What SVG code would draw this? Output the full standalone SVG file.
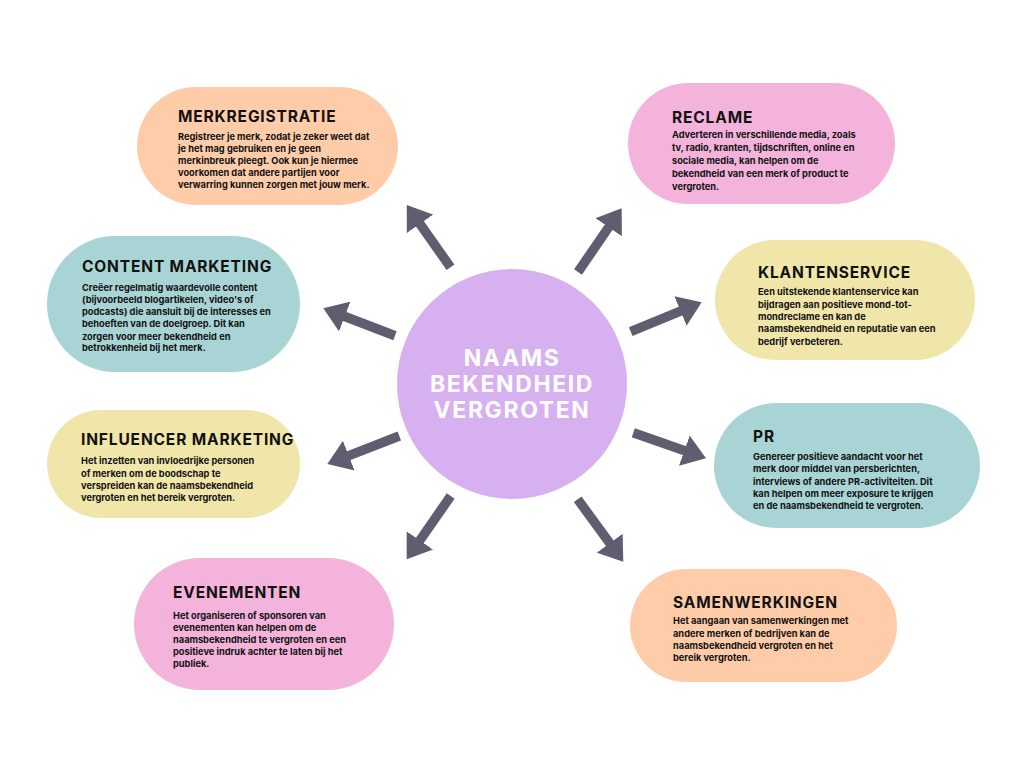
<svg xmlns="http://www.w3.org/2000/svg" width="1024" height="768" viewBox="0 0 1024 768">
<style>
  .peach{fill:#FFCCAA}
  .pink{fill:#F4B3DB}
  .teal{fill:#A9D4D5}
  .yellow{fill:#F1E6AA}
  .title{font-family:Inter,"Liberation Sans",sans-serif;font-weight:700;font-size:15.5px;letter-spacing:0.85px;fill:#111}
  .body{font-family:Inter,"Liberation Sans",sans-serif;font-weight:700;font-size:9.25px;fill:#111}
  .center{font-family:Inter,"Liberation Sans",sans-serif;font-weight:700;font-size:23px;letter-spacing:1.6px;fill:#fff;text-anchor:middle}
  .arrow{stroke:#605D70;stroke-width:9.5;marker-end:url(#head)}
</style>
<defs>
  <marker id="head" markerUnits="userSpaceOnUse" viewBox="0 0 23 32" markerWidth="23" markerHeight="32" refX="2" refY="16" orient="auto">
    <path d="M0,0 L23,16 L0,32 z" fill="#605D70"/>
  </marker>
</defs>
<rect width="1024" height="768" fill="#fff"/>

<g id="connectors">
  <line class="arrow" x1="450.5" y1="267.3" x2="418.8" y2="222.2"/>
  <line class="arrow" x1="578" y1="272" x2="609.8" y2="225.6"/>
  <line class="arrow" x1="395" y1="335.7" x2="342.9" y2="315.8"/>
  <line class="arrow" x1="630.7" y1="331.7" x2="682.3" y2="310.3"/>
  <line class="arrow" x1="399.3" y1="436" x2="346.9" y2="456.4"/>
  <line class="arrow" x1="633.3" y1="432.7" x2="686.2" y2="451.3"/>
  <line class="arrow" x1="450.7" y1="496" x2="418.7" y2="542.1"/>
  <line class="arrow" x1="577.7" y1="499.3" x2="610.9" y2="544.8"/>
</g>

<g id="center">
  <circle cx="512" cy="384" r="115" fill="#D7B1EF"/>
  <text class="center" x="512" y="366">NAAMS</text>
  <text class="center" x="512" y="392">BEKENDHEID</text>
  <text class="center" x="512" y="418">VERGROTEN</text>
</g>

<g id="merkregistratie">
  <rect class="peach" x="137" y="87" width="261" height="118" rx="59"/>
  <text class="title" x="178" y="122">MERKREGISTRATIE</text>
  <text class="body" x="178" y="140">Registreer je merk, zodat je zeker weet dat</text>
  <text class="body" x="178" y="152">je het mag gebruiken en je geen</text>
  <text class="body" x="178" y="164">merkinbreuk pleegt. Ook kun je hiermee</text>
  <text class="body" x="178" y="176">voorkomen dat andere partijen voor</text>
  <text class="body" x="178" y="188">verwarring kunnen zorgen met jouw merk.</text>
</g>

<g id="reclame">
  <rect class="pink" x="628" y="83" width="267" height="121" rx="60.5"/>
  <text class="title" x="672" y="123">RECLAME</text>
  <text class="body" x="672" y="138">Adverteren in verschillende media, zoals</text>
  <text class="body" x="672" y="151">tv, radio, kranten, tijdschriften, online en</text>
  <text class="body" x="672" y="164">sociale media, kan helpen om de</text>
  <text class="body" x="672" y="177">bekendheid van een merk of product te</text>
  <text class="body" x="672" y="190">vergroten.</text>
</g>

<g id="content-marketing">
  <rect class="teal" x="47" y="236" width="253" height="136" rx="68"/>
  <text class="title" x="82" y="272">CONTENT MARKETING</text>
  <text class="body" x="82" y="291">Creëer regelmatig waardevolle content</text>
  <text class="body" x="82" y="303">(bijvoorbeeld blogartikelen, video's of</text>
  <text class="body" x="82" y="315">podcasts) die aansluit bij de interesses en</text>
  <text class="body" x="82" y="327">behoeften van de doelgroep. Dit kan</text>
  <text class="body" x="82" y="340">zorgen voor meer bekendheid en</text>
  <text class="body" x="82" y="351">betrokkenheid bij het merk.</text>
</g>

<g id="klantenservice">
  <rect class="yellow" x="715" y="240" width="260" height="120" rx="60"/>
  <text class="title" x="758" y="278">KLANTENSERVICE</text>
  <text class="body" x="758" y="295">Een uitstekende klantenservice kan</text>
  <text class="body" x="758" y="308">bijdragen aan positieve mond-tot-</text>
  <text class="body" x="758" y="320">mondreclame en kan de</text>
  <text class="body" x="758" y="332">naamsbekendheid en reputatie van een</text>
  <text class="body" x="758" y="345">bedrijf verbeteren.</text>
</g>

<g id="influencer-marketing">
  <rect class="yellow" x="47" y="410" width="253" height="108" rx="54"/>
  <text class="title" x="81" y="445">INFLUENCER MARKETING</text>
  <text class="body" x="81" y="464">Het inzetten van invloedrijke personen</text>
  <text class="body" x="81" y="477">of merken om de boodschap te</text>
  <text class="body" x="81" y="489">verspreiden kan de naamsbekendheid</text>
  <text class="body" x="81" y="501">vergroten en het bereik vergroten.</text>
</g>

<g id="pr">
  <rect class="teal" x="714" y="403" width="266" height="125" rx="62.5"/>
  <text class="title" x="753" y="442">PR</text>
  <text class="body" x="753" y="460">Genereer positieve aandacht voor het</text>
  <text class="body" x="753" y="472">merk door middel van persberichten,</text>
  <text class="body" x="753" y="485">interviews of andere PR-activiteiten. Dit</text>
  <text class="body" x="753" y="497">kan helpen om meer exposure te krijgen</text>
  <text class="body" x="753" y="509">en de naamsbekendheid te vergroten.</text>
</g>

<g id="evenementen">
  <rect class="pink" x="134" y="558" width="260" height="132" rx="66"/>
  <text class="title" x="173" y="598">EVENEMENTEN</text>
  <text class="body" x="173" y="619">Het organiseren of sponsoren van</text>
  <text class="body" x="173" y="631">evenementen kan helpen om de</text>
  <text class="body" x="173" y="643">naamsbekendheid te vergroten en een</text>
  <text class="body" x="173" y="655">positieve indruk achter te laten bij het</text>
  <text class="body" x="173" y="667">publiek.</text>
</g>

<g id="samenwerkingen">
  <rect class="peach" x="630" y="569" width="267" height="113" rx="56.5"/>
  <text class="title" x="673" y="608">SAMENWERKINGEN</text>
  <text class="body" x="673" y="624">Het aangaan van samenwerkingen met</text>
  <text class="body" x="673" y="637">andere merken of bedrijven kan de</text>
  <text class="body" x="673" y="649">naamsbekendheid vergroten en het</text>
  <text class="body" x="673" y="661">bereik vergroten.</text>
</g>
</svg>
